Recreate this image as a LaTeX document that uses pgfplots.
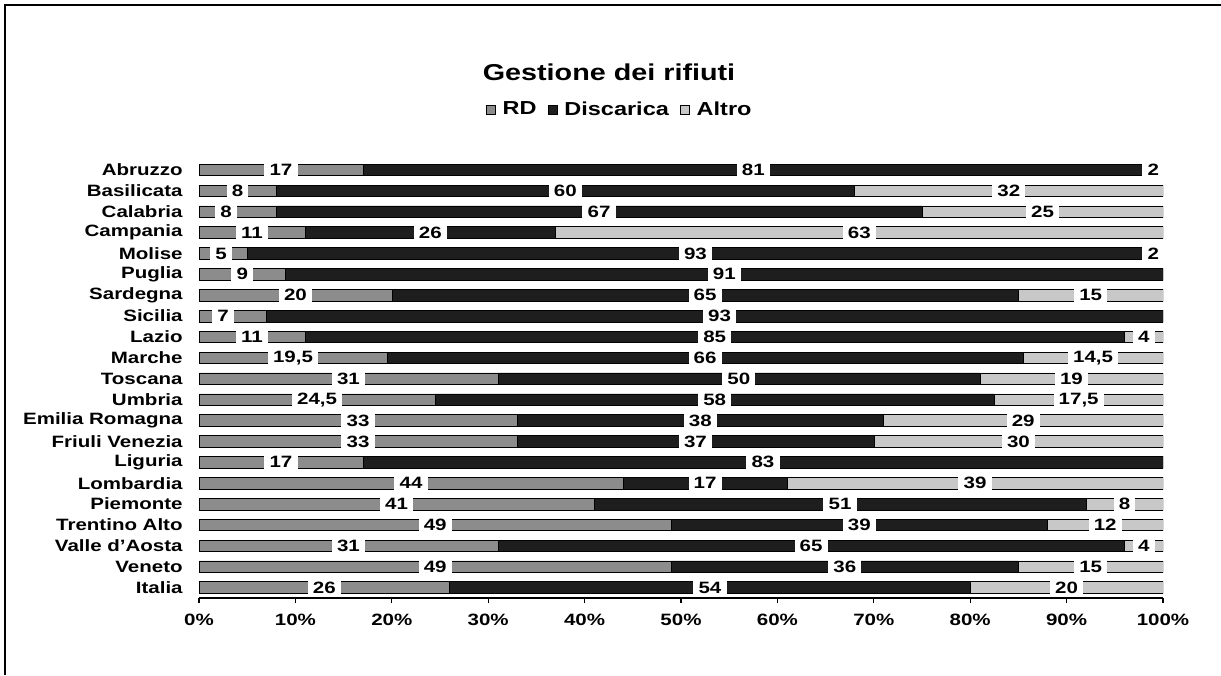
\documentclass[border=0pt]{standalone}
\usepackage{pgfplots}
\pgfplotsset{compat=1.18}
\usepackage{pgfplotstable}
\usepackage{fontspec}
\setmainfont{Liberation Sans}[FakeStretch=1.25]
\definecolor{rdc}{HTML}{8C8C8C}
\definecolor{discc}{HTML}{1E1E1E}
\definecolor{altc}{HTML}{C8C8C8}
\newcommand{\lab}{\fontsize{8.2}{9}\selectfont\bfseries}
\pgfplotstableread{
idx rd disc altro
0 17 81 2
1 8 60 32
2 8 67 25
3 11 26 63
4 5 93 2
5 9 91 0
6 20 65 15
7 7 93 0
8 11 85 4
9 19.5 66 14.5
10 31 50 19
11 24.5 58 17.5
12 33 38 29
13 33 37 30
14 17 83 0
15 44 17 39
16 41 51 8
17 49 39 12
18 31 65 4
19 49 36 15
20 26 54 20
}\datatab
\pgfplotstableread{
x y l
8.5 0 17
57.5 0 81
99 0 2
4 1 8
38 1 60
84 1 32
2.8 2 8
41.5 2 67
87.5 2 25
5.5 3 11
24 3 26
68.5 3 63
2.3 4 5
51.5 4 93
99 4 2
4.5 5 9
54.5 5 91
10 6 20
52.5 6 65
92.5 6 15
2.5 7 7
54 7 93
5.5 8 11
53.5 8 85
98 8 4
9.75 9 19,5
52.5 9 66
92.75 9 14,5
15.5 10 31
56 10 50
90.5 10 19
12.25 11 24,5
53.5 11 58
91.25 11 17,5
16.5 12 33
52 12 38
85.5 12 29
16.5 13 33
51.5 13 37
85 13 30
8.5 14 17
58.5 14 83
22 15 44
52.5 15 17
80.5 15 39
20.5 16 41
66.5 16 51
96 16 8
24.5 17 49
68.5 17 39
94 17 12
15.5 18 31
63.5 18 65
98 18 4
24.5 19 49
67 19 36
92.5 19 15
13 20 26
53 20 54
90 20 20
}\labtab
\begin{document}
\begin{tikzpicture}[x=1pt,y=1pt]
\useasboundingbox (0,0) rectangle (610.5,337.5);
\fill[white] (0,0) rectangle (610.5,337.5);
\draw[line width=0.7pt] (2.5,0) -- (2.5,335) -- (610.5,335);
\node[font=\fontsize{11.5}{13}\selectfont\bfseries] at (304.5,301.5) {Gestione dei rifiuti};
\begin{axis}[
  at={(99.5pt,38.5pt)}, anchor=south west,
  scale only axis, width=482pt, height=219.25pt,
  xbar stacked, bar width=5.8pt,
  legend image code/.code={\draw[#1,draw=black,line width=0.3pt] (0pt,-2.3pt) rectangle (4.6pt,2.3pt);},
  xmin=0, xmax=100, ymin=-0.5, ymax=20.5, y dir=reverse,
  ytick={0,...,20},
  yticklabels={Abruzzo,Basilicata,Calabria,Campania,Molise,Puglia,Sardegna,Sicilia,Lazio,Marche,Toscana,Umbria,Emilia Romagna,Friuli Venezia,Liguria,Lombardia,Piemonte,Trentino Alto,Valle d'Aosta,Veneto,Italia},
  xtick={0,10,...,100},
  xticklabel={\pgfmathprintnumber{\tick}\%},
  /pgf/number format/assume math mode=true,
  tick align=outside, major tick length=2.5pt,
  axis x line*=bottom, axis y line*=left,
  y axis line style={draw=none},
  ytick style={draw=none},
  xtick style={line width=0.6pt, black},
  x axis line style={line width=0.6pt},
  tick label style={font=\lab},
  yticklabel style={inner sep=0pt, xshift=-5.5pt},
  xticklabel style={yshift=-2pt},
  legend columns=3,
  legend style={draw=none, fill=none, font=\fontsize{9.4}{11}\selectfont\bfseries, at={(axis description cs:0.439,1.113)}, anchor=center,
    nodes={inner xsep=3.5pt},
    /tikz/every even column/.append style={column sep=2pt}},
  legend cell align=left,
]
\addplot[fill=rdc, draw=black, line width=0.3pt] table[x=rd, y=idx] {\datatab};
\addplot[fill=discc, draw=black, line width=0.3pt] table[x=disc, y=idx] {\datatab};
\addplot[fill=altc, draw=black, line width=0.3pt] table[x=altro, y=idx] {\datatab};
\legend{RD,Discarica,Altro}
\end{axis}
\begin{axis}[
  at={(99.5pt,38.5pt)}, anchor=south west,
  scale only axis, width=482pt, height=219.25pt,
  xmin=0, xmax=100, ymin=-0.5, ymax=20.5, y dir=reverse,
  hide axis, clip=false,
]
\addplot[draw=none, mark=none, nodes near coords, point meta=explicit symbolic,
  every node near coord/.append style={anchor=center, fill=white, inner xsep=2.6pt, inner ysep=1pt, text=black, font=\lab}]
  table[x=x, y=y, meta=l] {\labtab};
\end{axis}
\end{tikzpicture}
\end{document}
